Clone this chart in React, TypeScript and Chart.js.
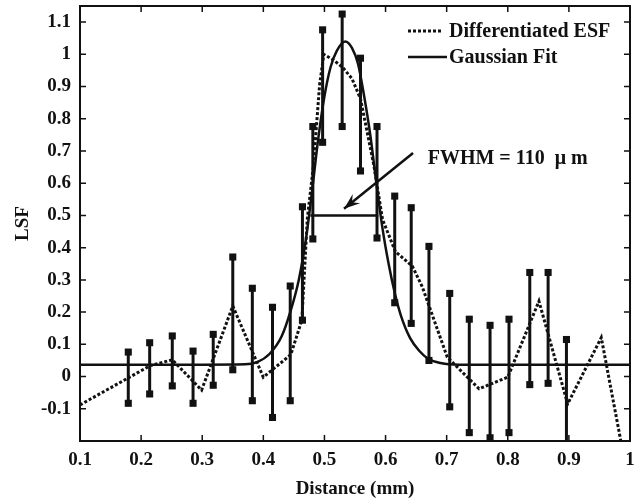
import React, { useEffect, useRef } from 'react';
import { Chart, registerables } from 'chart.js';
Chart.register(...registerables);

// Differentiated ESF (dotted)
const esfX = [0.1, 0.215, 0.251, 0.299, 0.35, 0.4, 0.445, 0.463, 0.472, 0.482, 0.492, 0.499, 0.515, 0.529, 0.545, 0.559, 0.57, 0.581, 0.595, 0.616, 0.644, 0.66, 0.701, 0.753, 0.8, 0.851, 0.898, 0.953, 0.985];
const esfY = [-0.088, 0.034, 0.052, -0.042, 0.219, -0.002, 0.068, 0.175, 0.49, 0.654, 0.904, 1.0, 0.982, 0.961, 0.925, 0.862, 0.758, 0.654, 0.488, 0.388, 0.342, 0.279, 0.06, -0.038, -0.002, 0.234, -0.085, 0.121, -0.2];

// Gaussian fit (solid)
const fitX = [0.1, 0.3, 0.37, 0.39, 0.41, 0.43, 0.444, 0.458, 0.47, 0.48, 0.49, 0.5, 0.51, 0.52, 0.534, 0.545, 0.555, 0.565, 0.575, 0.585, 0.595, 0.605, 0.615, 0.625, 0.64, 0.655, 0.67, 0.69, 0.72, 1.0];
const fitY = [0.037, 0.037, 0.038, 0.045, 0.07, 0.125, 0.2, 0.3, 0.43, 0.58, 0.74, 0.87, 0.96, 1.01, 1.04, 1.02, 0.97, 0.87, 0.75, 0.6, 0.46, 0.35, 0.26, 0.19, 0.12, 0.08, 0.055, 0.042, 0.037, 0.037];

// Error bars
const barX = [0.179, 0.214, 0.251, 0.285, 0.318, 0.35, 0.382, 0.415, 0.444, 0.464, 0.481, 0.497, 0.529, 0.559, 0.586, 0.615, 0.642, 0.671, 0.705, 0.737, 0.771, 0.802, 0.836, 0.866, 0.896];
const barLow = [-0.083, -0.054, -0.029, -0.083, -0.027, 0.021, -0.075, -0.127, -0.075, 0.175, 0.427, 0.727, 0.776, 0.638, 0.43, 0.229, 0.165, 0.05, -0.094, -0.174, -0.19, -0.174, -0.025, -0.021, -0.25];
const barHigh = [0.076, 0.105, 0.126, 0.079, 0.131, 0.371, 0.274, 0.215, 0.281, 0.527, 0.776, 1.076, 1.125, 0.988, 0.776, 0.56, 0.524, 0.404, 0.258, 0.178, 0.159, 0.178, 0.323, 0.323, 0.115];

// FWHM marker
const fwhmX = [0.477, 0.588];
const fwhmY = 0.5;
const fwhmLabel = 'FWHM = 110  \u03bc m';
const arrowFrom = [0.645, 0.694];
const arrowTo = [0.532, 0.521];
const labelAt = [0.669, 0.675];

const xTicks = [0.1, 0.2, 0.3, 0.4, 0.5, 0.6, 0.7, 0.8, 0.9, 1];
const yTicks = [-0.1, 0, 0.1, 0.2, 0.3, 0.4, 0.5, 0.6, 0.7, 0.8, 0.9, 1, 1.1];
const legendLabels = ['Differentiated ESF', 'Gaussian Fit'];
const xTitle = 'Distance (mm)';
const yTitle = 'LSF';

const INK = '#111';
const FONT = 'Liberation Serif, "Times New Roman", serif';

const decorPlugin = {
  id: 'decor',
  afterDatasetsDraw(chart: any) {
    const { ctx, chartArea: a, scales } = chart;
    const xs = scales.x, ys = scales.y;
    ctx.save();
    ctx.strokeStyle = INK;
    ctx.lineWidth = 2;
    ctx.strokeRect(a.left, a.top, a.right - a.left, a.bottom - a.top);
    ctx.lineWidth = 1.5;
    const tl = 6;
    ctx.beginPath();
    xTicks.forEach((v) => {
      const px = xs.getPixelForValue(v);
      ctx.moveTo(px, a.bottom); ctx.lineTo(px, a.bottom - tl);
      ctx.moveTo(px, a.top); ctx.lineTo(px, a.top + tl);
    });
    yTicks.forEach((v) => {
      const py = ys.getPixelForValue(v);
      ctx.moveTo(a.left, py); ctx.lineTo(a.left + tl, py);
      ctx.moveTo(a.right, py); ctx.lineTo(a.right - tl, py);
    });
    ctx.stroke();

    // arrow
    const x0 = xs.getPixelForValue(arrowFrom[0]), y0 = ys.getPixelForValue(arrowFrom[1]);
    const x1 = xs.getPixelForValue(arrowTo[0]), y1 = ys.getPixelForValue(arrowTo[1]);
    ctx.lineWidth = 2.5;
    ctx.beginPath();
    ctx.moveTo(x0, y0); ctx.lineTo(x1, y1);
    ctx.stroke();
    const ang = Math.atan2(y1 - y0, x1 - x0);
    const hl = 17, spread = 0.35;
    ctx.beginPath();
    ctx.moveTo(x1, y1);
    ctx.lineTo(x1 - hl * Math.cos(ang - spread), y1 - hl * Math.sin(ang - spread));
    ctx.lineTo(x1 - hl * 0.6 * Math.cos(ang), y1 - hl * 0.6 * Math.sin(ang));
    ctx.lineTo(x1 - hl * Math.cos(ang + spread), y1 - hl * Math.sin(ang + spread));
    ctx.closePath();
    ctx.fillStyle = INK;
    ctx.fill();

    // label
    ctx.font = `bold 20px ${FONT}`;
    ctx.textAlign = 'left';
    ctx.textBaseline = 'middle';
    ctx.fillText(fwhmLabel, xs.getPixelForValue(labelAt[0]), ys.getPixelForValue(labelAt[1]));

    // legend
    const lx0 = a.right - 222, lx1 = a.right - 185, tx = a.right - 181;
    const ly = [a.top + 25, a.top + 51];
    ctx.lineWidth = 3;
    ctx.setLineDash([3, 2]);
    ctx.beginPath(); ctx.moveTo(lx0, ly[0]); ctx.lineTo(lx1 - 2, ly[0]); ctx.stroke();
    ctx.setLineDash([]);
    ctx.lineWidth = 2.5;
    ctx.beginPath(); ctx.moveTo(lx0, ly[1]); ctx.lineTo(lx1 + 2, ly[1]); ctx.stroke();
    ctx.fillText(legendLabels[0], tx, ly[0] + 1);
    ctx.fillText(legendLabels[1], tx, ly[1] + 1);
    ctx.restore();
  },
};

export default function App() {
  const ref = useRef<HTMLCanvasElement | null>(null);
  useEffect(() => {
    document.body.style.margin = '0';
    const canvas = ref.current;
    if (!canvas) return;
    const tickFont = { family: FONT, weight: 'bold' as const, size: 19 };
    const errorSets = barX.map((x, i) => ({
      label: 'err' + i,
      data: [{ x, y: barLow[i] }, { x, y: barHigh[i] }],
      borderColor: INK,
      borderWidth: 3,
      showLine: true,
      pointStyle: 'rect' as const,
      pointRadius: 5,
      pointBackgroundColor: INK,
      pointBorderColor: INK,
      pointBorderWidth: 0,
      tension: 0,
    }));
    const chart = new Chart(canvas, {
      type: 'scatter',
      data: {
        datasets: [
          {
            label: legendLabels[0],
            data: esfX.map((x, i) => ({ x, y: esfY[i] })),
            showLine: true,
            borderColor: INK,
            borderWidth: 3,
            borderDash: [3, 2],
            pointRadius: 0,
            tension: 0,
          },
          {
            label: legendLabels[1],
            data: fitX.map((x, i) => ({ x, y: fitY[i] })),
            showLine: true,
            borderColor: INK,
            borderWidth: 2.5,
            pointRadius: 0,
            cubicInterpolationMode: 'monotone' as const,
          },
          {
            label: 'fwhm',
            data: fwhmX.map((x) => ({ x, y: fwhmY })),
            showLine: true,
            borderColor: INK,
            borderWidth: 2.5,
            pointRadius: 0,
          },
          ...errorSets,
        ],
      },
      options: {
        responsive: false,
        animation: false,
        devicePixelRatio: 1,
        layout: { padding: { top: 6, right: 14, bottom: 0, left: 0 } },
        plugins: { legend: { display: false }, tooltip: { enabled: false } },
        scales: {
          x: {
            type: 'linear',
            min: 0.1,
            max: 1,
            afterFit: (s: any) => { s.height = 60; s.paddingLeft = 0; s.paddingRight = 0; },
            afterBuildTicks: (s: any) => { s.ticks = xTicks.map((v) => ({ value: v })); },
            grid: { display: false, drawTicks: false },
            border: { display: false },
            ticks: {
              padding: 8,
              color: INK,
              font: tickFont,
              callback: (v: any) => String(Math.round(Number(v) * 10) / 10),
            },
            title: { display: true, text: xTitle, color: INK, font: tickFont, padding: { top: 0, bottom: 1 } },
          },
          y: {
            type: 'linear',
            min: -0.2,
            max: 1.15,
            afterFit: (s: any) => { s.width = 80; s.paddingTop = 0; s.paddingBottom = 0; },
            afterBuildTicks: (s: any) => { s.ticks = yTicks.map((v) => ({ value: v })); },
            grid: { display: false, drawTicks: false },
            border: { display: false },
            ticks: {
              padding: 9,
              color: INK,
              font: tickFont,
              callback: (v: any) => String(Math.round(Number(v) * 10) / 10),
            },
            title: { display: true, text: yTitle, color: INK, font: tickFont, padding: { top: 12, bottom: 0 } },
          },
        },
      },
      plugins: [decorPlugin],
    } as any);
    return () => chart.destroy();
  }, []);
  return (
    <div style={{ width: 644, height: 501, background: '#fff' }}>
      <canvas ref={ref} width={644} height={501} style={{ display: 'block' }} />
    </div>
  );
}
